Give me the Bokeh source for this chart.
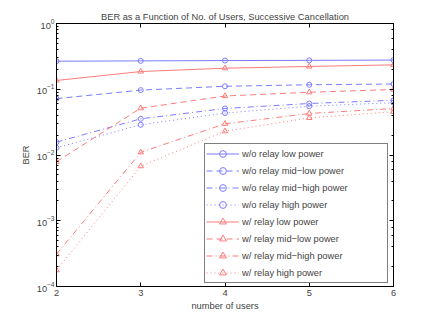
from bokeh.plotting import figure
from bokeh.models import (LinearAxis, LogAxis, FixedTicker, Legend, LegendItem,
                          CustomJSTickFormatter)
from bokeh.embed import file_html
from bokeh.resources import INLINE

users = [2, 3, 4, 5, 6]
wo_low = [0.267, 0.270, 0.273, 0.275, 0.278]
wo_midlow = [0.072, 0.097, 0.111, 0.117, 0.120]
wo_midhigh = [0.0157, 0.0355, 0.051, 0.0607, 0.068]
wo_high = [0.0129, 0.0288, 0.0435, 0.0552, 0.0625]
w_low = [0.136, 0.186, 0.209, 0.222, 0.235]
w_midlow = [0.0079, 0.0515, 0.079, 0.090, 0.099]
w_midhigh = [3.1e-4, 0.011, 0.0298, 0.0428, 0.051]
w_high = [1.77e-4, 0.00676, 0.023, 0.0367, 0.0454]

labels = ["w/o relay low power", "w/o relay mid\u2212low power",
          "w/o relay mid\u2212high power", "w/o relay high power",
          "w/ relay low power", "w/ relay mid\u2212low power",
          "w/ relay mid\u2212high power", "w/ relay high power"]
series = [wo_low, wo_midlow, wo_midhigh, wo_high, w_low, w_midlow, w_midhigh, w_high]

FONT = "Liberation Sans"
FS = "9.3px"
BLUE = "#7b7bff"
RED = "#ff7b7b"
dashes = ["solid", "6 4", "6 3 1 3", "1 3"]

p = figure(width=427, height=314, y_axis_type="log", x_range=(2, 6), y_range=(1e-4, 1),
           output_backend="svg", toolbar_location=None,
           min_border_left=56, min_border_right=34, min_border_top=23, min_border_bottom=28)
p.title.text = "BER as a Function of No. of Users, Successive Cancellation"
p.title.text_font = FONT
p.title.text_font_size = FS
p.title.text_font_style = "normal"
p.title.align = "center"
p.title.standoff = 4
p.grid.visible = False
p.outline_line_color = "black"
p.outline_line_width = 1

def style_axis(ax):
    ax.axis_line_color = "black"
    ax.major_tick_in = 4
    ax.major_tick_out = 0
    ax.minor_tick_in = 2
    ax.minor_tick_out = 0
    ax.major_label_text_font = FONT
    ax.major_label_text_font_size = FS
    ax.axis_label_text_font = FONT
    ax.axis_label_text_font_size = FS
    ax.axis_label_text_font_style = "normal"
    ax.major_label_standoff = 3
    ax.axis_label_standoff = 2

p.xaxis.ticker = FixedTicker(ticks=users)
p.xaxis.axis_label = "number of users"
p.yaxis.axis_label = "BER"
style_axis(p.xaxis[0])
style_axis(p.yaxis[0])
p.yaxis.major_label_standoff = 2
p.yaxis.axis_label_standoff = 3

blank = CustomJSTickFormatter(code="return '';")
top = LinearAxis(ticker=FixedTicker(ticks=users), formatter=blank)
style_axis(top)
top.major_label_standoff = 5
p.add_layout(top, "above")
right = LogAxis(formatter=CustomJSTickFormatter(code="return '';"))
style_axis(right)
right.major_label_standoff = 0
p.add_layout(right, "right")

items = []
for i, (lab, ys) in enumerate(zip(labels, series)):
    color = BLUE if i < 4 else RED
    dash = dashes[i % 4]
    r1 = p.line(users, ys, line_color=color, line_width=1, line_dash=dash)
    if i < 4:
        r2 = p.scatter(users, ys, marker="circle", size=5, fill_color=None, line_color=color, line_width=1)
    else:
        r2 = p.scatter(users, ys, marker="triangle", size=5.5, fill_color=None, line_color=color, line_width=1)
    items.append(LegendItem(label=lab, renderers=[r1, r2]))

legend = Legend(items=items, location=(148, 3), padding=1, spacing=0,
                glyph_width=33, glyph_height=17, label_height=17, label_width=144,
                label_standoff=3, label_text_font=FONT, label_text_font_size=FS,
                border_line_color="black", border_line_width=1, background_fill_alpha=1,
                margin=0)
p.add_layout(legend, "center")

open("out.html", "w").write(file_html(p, INLINE))
